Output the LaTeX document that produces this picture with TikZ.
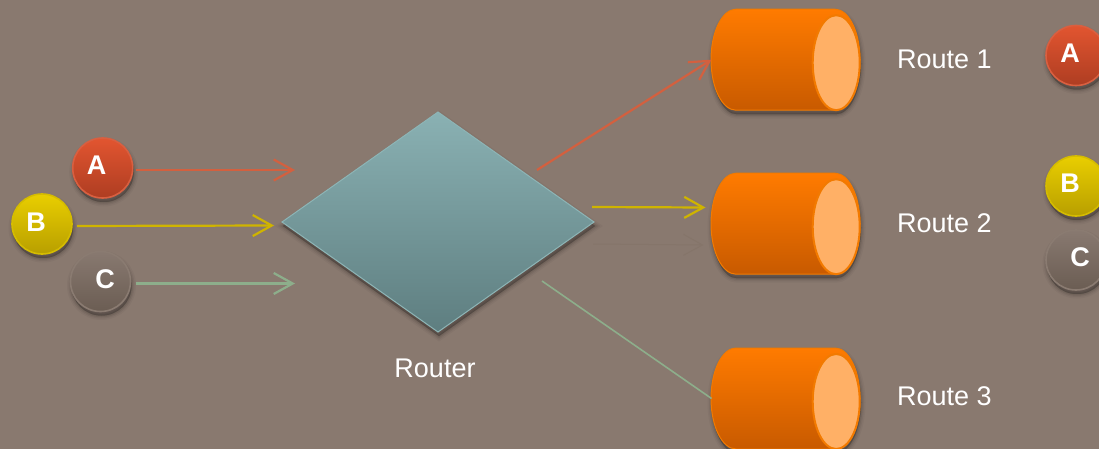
\documentclass[tikz,border=0pt]{standalone}
\usepackage{fontspec}
\setmainfont{Liberation Sans}
\usetikzlibrary{shapes.geometric,arrows.meta,calc}
\definecolor{bgc}{HTML}{89796F}
\definecolor{redl}{HTML}{D3603F}
\definecolor{yell}{HTML}{CFB400}
\definecolor{grnl}{HTML}{8DAE8B}
\definecolor{faint}{HTML}{85756A}
\definecolor{E25530}{HTML}{E25530}
\definecolor{AE3D22}{HTML}{AE3D22}
\definecolor{D95F40}{HTML}{D95F40}
\definecolor{E9CE00}{HTML}{E9CE00}
\definecolor{B89F00}{HTML}{B89F00}
\definecolor{D5BC00}{HTML}{D5BC00}
\definecolor{ballCtop}{HTML}{887970}
\definecolor{ballCbot}{HTML}{6B5D53}
\definecolor{ballCrim}{HTML}{8A7B71}
\definecolor{canTop}{HTML}{FF7B00}
\definecolor{canMid}{HTML}{F87800}
\definecolor{canBot}{HTML}{C85A00}
\definecolor{canRim}{HTML}{F27A00}
\definecolor{canFace}{HTML}{FFB066}
\definecolor{diaTop}{HTML}{8AB1B3}
\definecolor{diaBot}{HTML}{5E7E80}
\definecolor{diaRim}{HTML}{8DB5B6}
\tikzset{
  softshadow/.style={
    preaction={fill=black,draw=black,opacity=.035,line width=9pt,transform canvas={xshift=1pt,yshift=-4pt}},
    preaction={fill=black,draw=black,opacity=.05,line width=6pt,transform canvas={xshift=1pt,yshift=-4pt}},
    preaction={fill=black,draw=black,opacity=.07,line width=3.5pt,transform canvas={xshift=1pt,yshift=-4pt}},
    preaction={fill=black,draw=black,opacity=.08,line width=1pt,transform canvas={xshift=1pt,yshift=-4pt}}},
  ball/.style={circle,minimum size=60pt,inner sep=0pt,outer sep=0pt,line width=1.6pt,softshadow},
  balla/.style={ball,top color=E25530,bottom color=AE3D22,draw=D95F40},
  ballb/.style={ball,top color=E9CE00,bottom color=B89F00,draw=D5BC00},
  ballc/.style={ball,top color=ballCtop,bottom color=ballCbot,draw=ballCrim},
  letter/.style={inner sep=0pt,text=white,font=\fontsize{27}{27}\selectfont\bfseries},
  caption/.style={inner sep=0pt,text=white,font=\fontsize{27}{27}\selectfont},
  canbox/.style={rectangle,minimum width=149pt,minimum height=101pt,inner sep=0pt,outer sep=0pt},
  link/.style={line width=2.2pt},
  barb/.style={-{Straight Barb[length=19pt,width=21pt,line width=2.2pt]}},
}
\newcommand{\routecan}[2]{%
  \node[canbox] (#1) at #2 {};
  \begin{scope}[shift={(#1.center)}]
    \path[softshadow,line width=1pt,draw=canRim,top color=canTop,middle color=canMid,bottom color=canBot]
      (-50,-50.5) -- (49,-50.5) .. controls (62.8,-50.5) and (74,-27.9) .. (74,0)
      .. controls (74,27.9) and (62.8,50.5) .. (49,50.5) -- (-50,50.5)
      .. controls (-63.8,50.5) and (-75,27.9) .. (-75,0)
      .. controls (-75,-27.9) and (-63.8,-50.5) .. (-50,-50.5) -- cycle;
    \fill[canFace,draw=canRim,line width=2pt] (50.2,3) circle[x radius=23.5,y radius=47.5];
  \end{scope}
}
\begin{document}
\begin{tikzpicture}[x=1pt,y=-1pt]
\useasboundingbox (0,0) rectangle (1099,449);
\clip (0,0) rectangle (1099,449);
\fill[bgc] (0,0) rectangle (1099,449);

\node[balla] (a) at (102.7,168) {};
\node[ballb] (b) at (42,224) {};
\node[ballc] (c) at (100.5,281.5) {};
\node[letter] (la) at (96.7,165.5) {A};
\node[letter] (lb) at (36,222) {B};
\node[letter] (lc) at (105,279) {C};

\node[diamond,aspect=1.418,minimum width=312pt,minimum height=220pt,inner sep=0pt,outer sep=0pt,
  draw=diaRim,line width=1pt,top color=diaTop,bottom color=diaBot,softshadow] (router) at (438,222) {};
\node[caption] (routerlabel) at (435,368) {Router};

\routecan{r1}{(786,59.7)}
\routecan{r2}{(786,223.7)}
\routecan{r3}{(786,398.5)}

\node[caption,anchor=west] (t1) at (897,59) {Route 1};
\node[caption,anchor=west] (t2) at (897,223) {Route 2};
\node[caption,anchor=west] (t3) at (897,396) {Route 3};

\node[balla] (ka) at (1076,55.5) {};
\node[ballb] (kb) at (1076,186) {};
\node[ballc] (kc) at (1076,260) {};
\node[letter] (lka) at (1070,53) {A};
\node[letter] (lkb) at (1070,183) {B};
\node[letter] (lkc) at (1080,257) {C};

\draw[link,barb,redl] ($(a.east)+(3,2)$) -- ($(router.west)+(13,-52)$);
\draw[link,barb,yell] ($(b.east)+(5,2)$) -- ($(router.west)+(-8,3.5)$);
\draw[link,barb,grnl] ($(c.east)+(5,2)$) -- ($(router.west)+(13,61.5)$);
\draw[link,barb,redl] ($(router.center)+(99,-52)$) -- (r1.west);
\draw[link,barb,yell] ($(router.east)+(-2,-15)$) -- ($(r2.west)+(-6,-16.2)$);
\draw[line width=1pt,-{Straight Barb[length=19pt,width=21pt,line width=1pt]},faint] ($(router.east)+(-1,22)$) -- ($(r2.west)+(-8,21.3)$);
\draw[line width=1.6pt,grnl] ($(router.center)+(104,59)$) -- (r3.west);
\end{tikzpicture}
\end{document}
